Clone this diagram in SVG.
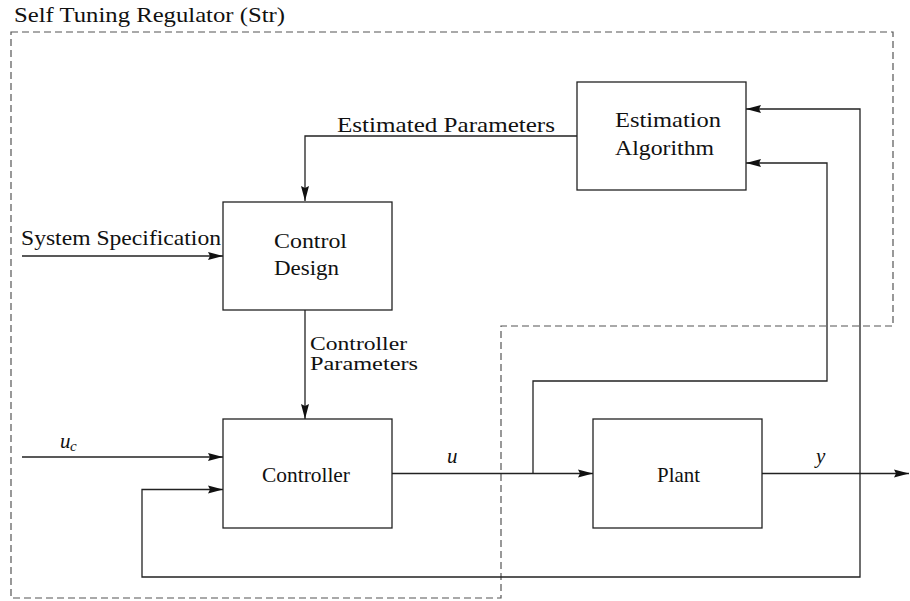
<svg xmlns="http://www.w3.org/2000/svg" width="910" height="601" viewBox="0 0 910 601">
  <style>
    .box { fill: #fff; stroke: #222; stroke-width: 1.3; }
    .wire { fill: none; stroke: #222; stroke-width: 1.3; }
    .frame { fill: none; stroke: #555; stroke-width: 1.2; stroke-dasharray: 7 4; }
    text { font-family: 'Liberation Serif', 'Times New Roman', 'DejaVu Serif', 'Noto Serif', serif; fill: #111; }
    .lbl { font-size: 21px; }
    .tight { font-size: 19px; }
    .math { font-style: italic; font-size: 21px; }
    .sub { font-style: italic; font-size: 15px; }
  </style>
  <defs>
    <marker id="arrow" markerUnits="userSpaceOnUse" markerWidth="16" markerHeight="10" viewBox="-16 -5 16 10" refX="0" refY="0" orient="auto">
      <path d="M0,0 L-15,-4 L-13,0 L-15,4 Z" fill="#111"/>
    </marker>
  </defs>
  <rect width="910" height="601" fill="#fff"/>

  <!-- dashed outline of the self tuning regulator -->
  <g id="str-frame">
    <path class="frame" d="M11,32 H893 V326 H501 V598 H11 Z"/>
    <text class="lbl" x="14" y="21.5" textLength="271" lengthAdjust="spacingAndGlyphs">Self Tuning Regulator (Str)</text>
  </g>

  <!-- signal lines -->
  <g id="connectors">
    <path class="wire" d="M577,136 H305 V201" marker-end="url(#arrow)"/>
    <path class="wire" d="M22,256 H223" marker-end="url(#arrow)"/>
    <path class="wire" d="M305,310 V419" marker-end="url(#arrow)"/>
    <path class="wire" d="M22,457 H223" marker-end="url(#arrow)"/>
    <path class="wire" d="M392,473.5 H593" marker-end="url(#arrow)"/>
    <path class="wire" d="M533,473.5 V381 H827 V163 H746" marker-end="url(#arrow)"/>
    <path class="wire" d="M762,473.5 H909" marker-end="url(#arrow)"/>
    <path class="wire" d="M860,473.5 V109 H746" marker-end="url(#arrow)"/>
    <path class="wire" d="M860,473.5 V577 H142 V489.5 H223" marker-end="url(#arrow)"/>
    <text class="lbl" x="337" y="131.5" textLength="218" lengthAdjust="spacingAndGlyphs">Estimated Parameters</text>
    <text class="lbl" x="21" y="245" textLength="200" lengthAdjust="spacingAndGlyphs">System Specification</text>
    <text class="tight" x="310" y="349.5" textLength="97" lengthAdjust="spacingAndGlyphs">Controller</text>
    <text class="tight" x="310" y="370" textLength="108" lengthAdjust="spacingAndGlyphs">Parameters</text>
    <text class="math" x="60" y="447.5">u</text>
    <text class="sub" x="70" y="451">c</text>
    <text class="math" x="447" y="463">u</text>
    <text class="math" x="816" y="463">y</text>
  </g>

  <g id="estimation-algorithm">
    <rect class="box" x="577" y="82" width="169" height="108"/>
    <text class="lbl" x="615" y="127" textLength="106" lengthAdjust="spacingAndGlyphs">Estimation</text>
    <text class="lbl" x="615" y="155" textLength="99" lengthAdjust="spacingAndGlyphs">Algorithm</text>
  </g>

  <g id="control-design">
    <rect class="box" x="223" y="202" width="169" height="108"/>
    <text class="lbl" x="274" y="248" textLength="73" lengthAdjust="spacingAndGlyphs">Control</text>
    <text class="lbl" x="274" y="275" textLength="65" lengthAdjust="spacingAndGlyphs">Design</text>
  </g>

  <g id="controller">
    <rect class="box" x="223" y="419" width="169" height="109"/>
    <text class="lbl" x="262" y="481.5" textLength="88" lengthAdjust="spacingAndGlyphs">Controller</text>
  </g>

  <g id="plant">
    <rect class="box" x="593" y="419" width="169" height="109"/>
    <text class="lbl" x="657" y="481.5" textLength="43" lengthAdjust="spacingAndGlyphs">Plant</text>
  </g>
</svg>
